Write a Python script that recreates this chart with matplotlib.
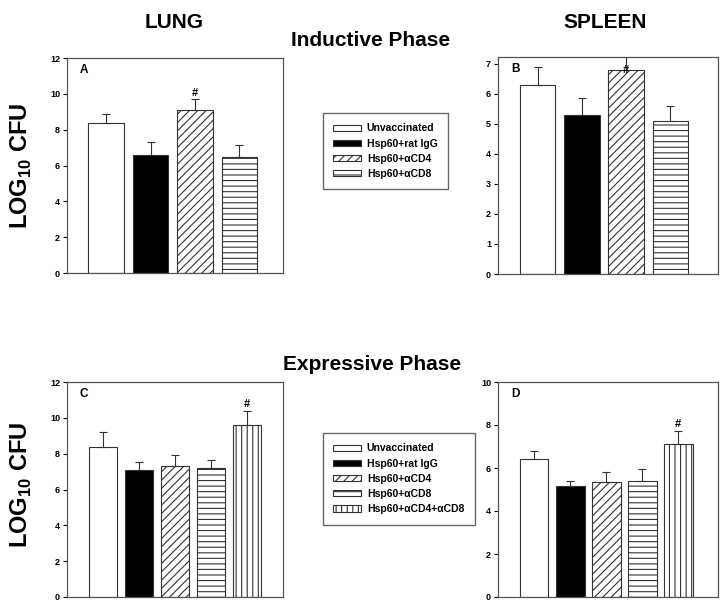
import numpy as np
import matplotlib
matplotlib.use("Agg")
import matplotlib.pyplot as plt
from matplotlib.patches import Patch

plt.rcParams['font.family'] = ['Liberation Sans', 'DejaVu Sans']
plt.rcParams['font.weight'] = 'bold'
plt.rcParams['mathtext.fontset'] = 'custom'
plt.rcParams['mathtext.rm'] = 'Liberation Sans:bold'
plt.rcParams['hatch.linewidth'] = 0.8

# groups
groups4 = ["Unvaccinated", "Hsp60+rat IgG", "Hsp60+\u03b1CD4", "Hsp60+\u03b1CD8"]
groups5 = groups4 + ["Hsp60+\u03b1CD4+\u03b1CD8"]

# inductive phase (mean, upper error)
lung_ind = [8.4, 6.6, 9.1, 6.5]
lung_ind_err = [0.5, 0.7, 0.6, 0.65]
spleen_ind = [6.3, 5.3, 6.8, 5.1]
spleen_ind_err = [0.6, 0.55, 0.8, 0.5]

# expressive phase
lung_exp = [8.4, 7.1, 7.3, 7.2, 9.6]
lung_exp_err = [0.8, 0.45, 0.6, 0.45, 0.8]
spleen_exp = [6.4, 5.15, 5.35, 5.4, 7.1]
spleen_exp_err = [0.4, 0.25, 0.45, 0.55, 0.6]

# significance marks (index of bar)
sig_ind = 2
sig_exp = 4

faces = ['white', 'black', 'white', 'white', 'white']
hatches = [None, None, '////', '---', '|||']
edge = '#333333'

fig = plt.figure(figsize=(7.26, 6.07), dpi=100)
W, H = 726.0, 607.0


def add_ax(x0, y0, x1, y1):
    return fig.add_axes([x0 / W, 1 - y1 / H, (x1 - x0) / W, (y1 - y0) / H])


def panel(ax, vals, errs, ylim, yticks, xlim, letter, sig, sig_y):
    n = len(vals)
    x = np.arange(n)
    for i in range(n):
        ax.bar(x[i], vals[i], width=0.8, color=faces[i], edgecolor=edge,
               hatch=hatches[i], linewidth=0.8, zorder=2)
    ax.errorbar(x, vals, yerr=[np.zeros(n), errs], fmt='none', ecolor=edge,
                elinewidth=0.8, capsize=3, capthick=0.8, zorder=3)
    ax.text(x[sig], sig_y, '#', ha='center', va='bottom', fontsize=8,
            fontweight='bold', zorder=4)
    ax.set_xlim(*xlim)
    ax.set_ylim(*ylim)
    ax.set_yticks(yticks)
    ax.set_xticks([])
    ax.tick_params(axis='y', direction='out', length=3, width=0.8,
                   labelsize=6.5, colors='black', pad=2)
    for s in ax.spines.values():
        s.set_color('#555555')
        s.set_linewidth(0.9)
    for lab in ax.get_yticklabels():
        lab.set_fontweight('bold')
    ax.text(0.06, 0.945, letter, transform=ax.transAxes, fontsize=8.5,
            fontweight='bold', ha='left', va='center')


axA = add_ax(67, 58, 283, 273)
panel(axA, lung_ind, lung_ind_err, (0, 12), range(0, 13, 2), (-0.88, 3.98),
      'A', sig_ind, 9.75)

axB = add_ax(498, 57, 718, 274)
panel(axB, spleen_ind, spleen_ind_err, (0, 7.22), range(0, 8), (-0.9, 4.08),
      'B', sig_ind, 6.62)

axC = add_ax(67, 382, 283, 597)
panel(axC, lung_exp, lung_exp_err, (0, 12), range(0, 13, 2), (-1.0, 5.0),
      'C', sig_exp, 10.5)

axD = add_ax(498, 382, 718, 597)
panel(axD, spleen_exp, spleen_exp_err, (0, 10), range(0, 11, 2), (-1.0, 5.1),
      'D', sig_exp, 7.8)

# titles
fig.text(174 / W, 1 - 22 / H, 'LUNG', ha='center', va='center', fontsize=15, fontweight='bold')
fig.text(605 / W, 1 - 22 / H, 'SPLEEN', ha='center', va='center', fontsize=15, fontweight='bold')
fig.text(371 / W, 1 - 40 / H, 'Inductive Phase', ha='center', va='center', fontsize=15, fontweight='bold')
fig.text(372 / W, 1 - 365 / H, 'Expressive Phase', ha='center', va='center', fontsize=15, fontweight='bold')
for yc in (166, 485):
    fig.text(21 / W, 1 - yc / H, r'LOG$_\mathrm{10}$ CFU', rotation=90, ha='center',
             va='center', fontsize=17, fontweight='bold')


def make_legend(names, anchor):
    handles = [Patch(facecolor=faces[i], edgecolor=edge, hatch=hatches[i], linewidth=0.8)
               for i in range(len(names))]
    leg = fig.legend(handles, names, loc='upper left', bbox_to_anchor=anchor,
                     fontsize=7.5, frameon=True, fancybox=False, handlelength=2.6,
                     handleheight=0.55, labelspacing=0.5, borderpad=1.0,
                     handletextpad=0.6, borderaxespad=0)
    leg.get_frame().set_edgecolor('#444444')
    leg.get_frame().set_linewidth(1.0)
    for t in leg.get_texts():
        t.set_fontweight('bold')
    return leg


make_legend(groups4, (323 / W, 1 - 113 / H))
make_legend(groups5, (323 / W, 1 - 433 / H))

fig.savefig('out.png', dpi=100)
